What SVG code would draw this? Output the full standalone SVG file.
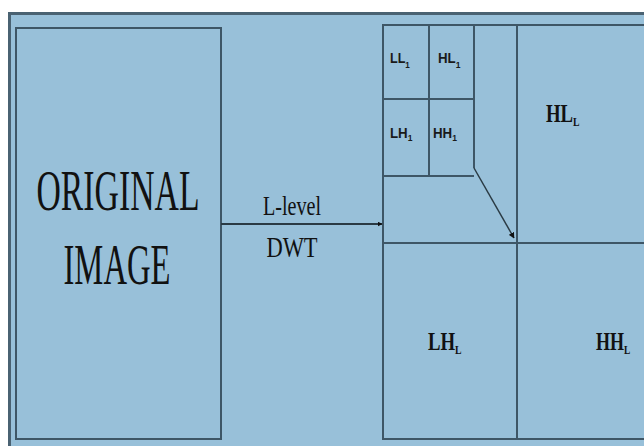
<svg xmlns="http://www.w3.org/2000/svg" width="644" height="446" viewBox="0 0 644 446">
<defs>
<style>
.ln{stroke:#3e5666;stroke-width:2;fill:none}
.big{font-family:"Liberation Serif",serif;fill:#111}
.sub{font-family:"Liberation Sans",sans-serif;font-weight:bold;fill:#1a1a1a;font-size:14px}
.sub tspan{font-size:9px}
.lvl{font-family:"Liberation Serif",serif;font-weight:bold;fill:#111;font-size:25px}
.lvl tspan{font-size:13px}
</style>
<marker id="ah" viewBox="0 0 10 10" refX="9" refY="5" markerWidth="5" markerHeight="5" orient="auto" markerUnits="userSpaceOnUse">
<path d="M0,0 L10,5 L0,10 z" fill="#111"/>
</marker>
<marker id="ah2" viewBox="0 0 10 10" refX="9" refY="5" markerWidth="6" markerHeight="6" orient="auto" markerUnits="userSpaceOnUse">
<path d="M0,0 L10,5 L0,10 z" fill="#111"/>
</marker>
</defs>
<rect width="644" height="446" fill="#ffffff"/>
<rect x="9.5" y="13.5" width="640" height="440" fill="#98c0d9" stroke="#4a6272" stroke-width="3"/>
<g id="original">
<rect x="16" y="28" width="205" height="411" class="ln"/>
<text class="big" x="118" y="210" font-size="58" text-anchor="middle" textLength="163" lengthAdjust="spacingAndGlyphs">ORIGINAL</text>
<text class="big" x="117" y="284" font-size="58" text-anchor="middle" textLength="107" lengthAdjust="spacingAndGlyphs">IMAGE</text>
</g>
<g id="dwt">
<rect x="383" y="25" width="270" height="414" class="ln"/>
<line x1="517" y1="25" x2="517" y2="439" class="ln"/>
<line x1="383" y1="243" x2="650" y2="243" class="ln"/>
<line x1="429" y1="25" x2="429" y2="176" class="ln"/>
<line x1="383" y1="99" x2="474" y2="99" class="ln"/>
<line x1="383" y1="176" x2="474" y2="176" class="ln"/>
<line x1="474" y1="25" x2="474" y2="168" class="ln"/>
</g>
<g id="LL1"><text class="sub" transform="translate(390,63) scale(0.9,1)">LL<tspan dy="5">1</tspan></text></g>
<g id="HL1"><text class="sub" transform="translate(438,63) scale(0.95,1)">HL<tspan dy="5">1</tspan></text></g>
<g id="LH1"><text class="sub" transform="translate(390,138) scale(0.95,1)">LH<tspan dy="3">1</tspan></text></g>
<g id="HH1"><text class="sub" transform="translate(433,138) scale(0.95,1)">HH<tspan dy="3">1</tspan></text></g>
<g id="HLL"><text class="lvl" transform="translate(546,122) scale(0.75,1)">HL<tspan dy="4">L</tspan></text></g>
<g id="LHL"><text class="lvl" transform="translate(428,350) scale(0.75,1)">LH<tspan dy="4">L</tspan></text></g>
<g id="HHL"><text class="lvl" transform="translate(596,350) scale(0.72,1)">HH<tspan dy="4">L</tspan></text></g>
<g id="connectors">
<line x1="221" y1="224" x2="382" y2="224" stroke="#2a3a44" stroke-width="2" marker-end="url(#ah)"/>
<line x1="474" y1="168" x2="514" y2="238" stroke="#2a3a44" stroke-width="1.5" marker-end="url(#ah2)"/>
</g>
<g id="label">
<text class="big" transform="translate(292,215) scale(0.72,1)" font-size="28" text-anchor="middle">L-level</text>
<text class="big" transform="translate(292,257) scale(0.75,1)" font-size="30" text-anchor="middle">DWT</text>
</g>
</svg>
